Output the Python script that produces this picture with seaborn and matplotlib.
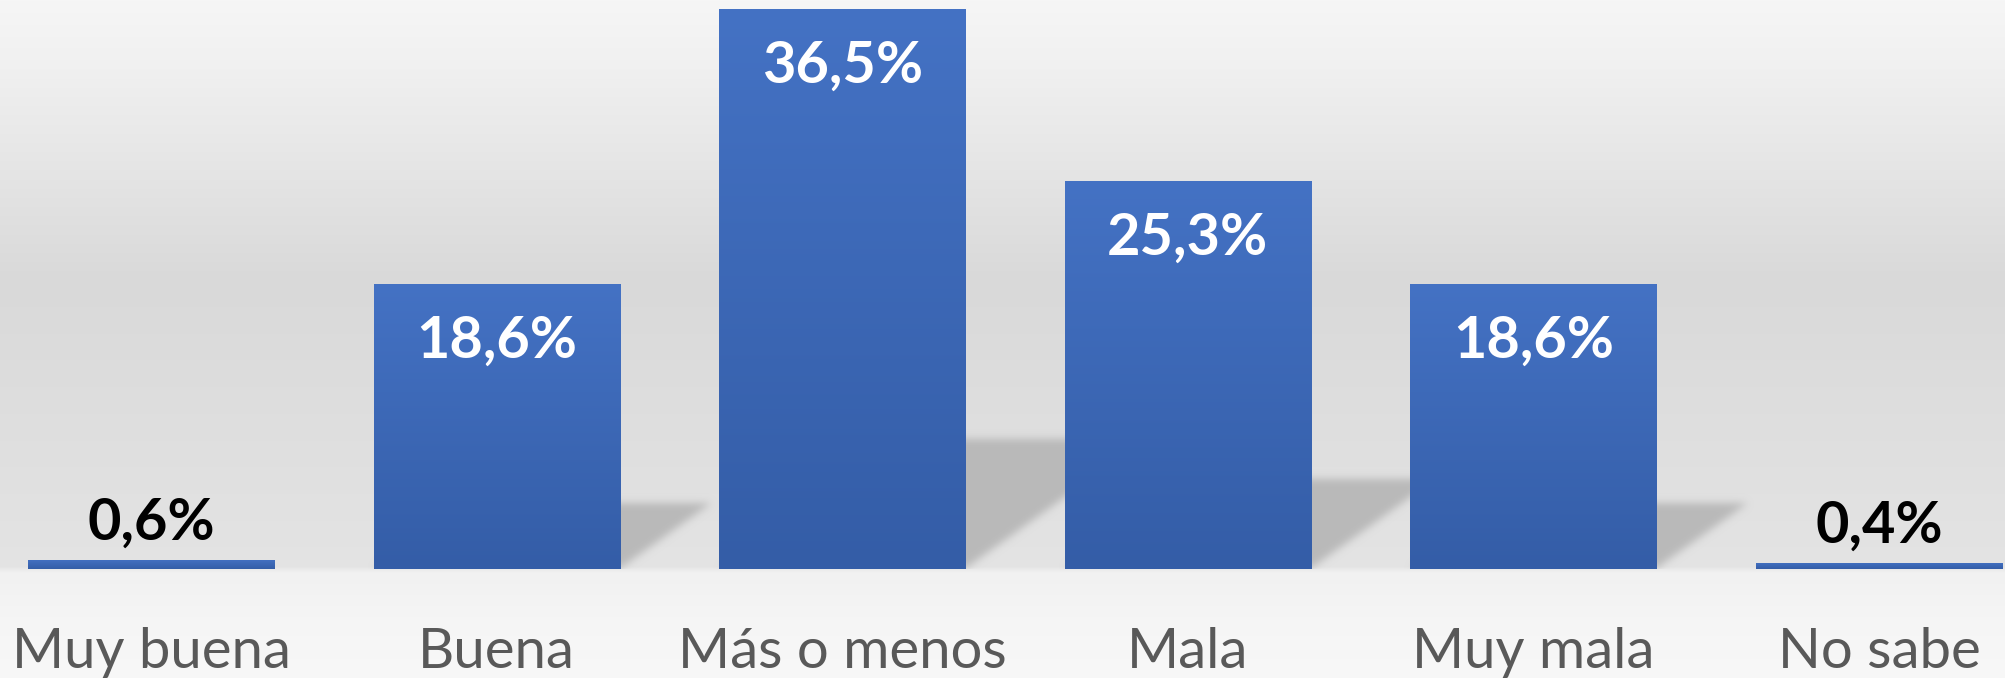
import numpy as np
import pandas as pd
import matplotlib
matplotlib.use("Agg")
import matplotlib.pyplot as plt
from matplotlib.path import Path
import seaborn as sns

categories = ["Muy buena", "Buena", "Más o menos", "Mala", "Muy mala", "No sabe"]
values = [0.6, 18.6, 36.5, 25.3, 18.6, 0.4]
value_labels = ["0,6%", "18,6%", "36,5%", "25,3%", "18,6%", "0,4%"]

sns.set_theme(style="white")
plt.rcParams["font.family"] = ["Lato", "DejaVu Sans"]

W, H, DPI = 2006, 678, 100
fig = plt.figure(figsize=(W / DPI, H / DPI), dpi=DPI)

# ---- background gradient (whole figure) ----
ax_bg = fig.add_axes([0, 0, 1, 1], zorder=-5)
ys = np.arange(H)
stops_y = [0, 60, 280, 566, 572, 620, 678]
stops_v = [0.965, 0.945, 0.851, 0.893, 0.945, 0.962, 0.972]
g = np.interp(ys, stops_y, stops_v)
bg = np.repeat(g[:, None], 8, axis=1)
bg_rgb = np.dstack([bg, bg, bg])
ax_bg.imshow(bg_rgb, aspect="auto", extent=[0, 1, 0, 1], origin="upper")
ax_bg.set_axis_off()

# ---- main axes ----
base_px = 569
top_px = 9
ax = fig.add_axes([0, 1 - base_px / H, 1, (base_px - top_px) / H], zorder=1)
ax.patch.set_alpha(0)

df = pd.DataFrame({"cat": categories, "val": values})
sns.barplot(data=df, x="cat", y="val", order=categories, color="#4472C4",
            width=0.712, saturation=1, ax=ax, zorder=3)

xl = (-151 / 345.6, (W - 151) / 345.6)
yl = (0, 36.5)
ax.set_xlim(*xl)
ax.set_ylim(*yl)

# ---- bar gradients ----
grad = np.linspace(0, 1, 256)[:, None]
top_c = np.array([0x44, 0x72, 0xC4]) / 255
bot_c = np.array([0x34, 0x5D, 0xA7]) / 255
for p in ax.patches:
    x0, y0 = p.get_x(), p.get_y()
    w, h = p.get_width(), p.get_height()
    img = top_c[None, None, :] * (1 - grad[:, :, None]) + bot_c[None, None, :] * grad[:, :, None]
    img = np.repeat(img, 2, axis=1)
    im = ax.imshow(img, extent=[x0, x0 + w, y0, y0 + h], aspect="auto",
                   origin="upper", zorder=4)
    im.set_clip_path(p)
    p.set_edgecolor("none")

# ---- perspective shadows (raster, blurred) ----
r_h, s_x = 0.231, 0.0143
nx, ny = W, base_px - top_px
gx = np.linspace(xl[0], xl[1], nx)
gy = np.linspace(yl[1], yl[0], ny)
GX, GY = np.meshgrid(gx, gy)
pts = np.column_stack([GX.ravel(), GY.ravel()])
mask = np.zeros(nx * ny, dtype=float)
for p in ax.patches:
    x0, w, h = p.get_x(), p.get_width(), p.get_height()
    if h < 2:
        continue
    poly = Path([(x0, 0), (x0 + w, 0), (x0 + w + s_x * h, r_h * h),
                 (x0 + s_x * h, r_h * h), (x0, 0)])
    mask = np.maximum(mask, poly.contains_points(pts).astype(float))
mask = mask.reshape(ny, nx)

def blur(a, sigma):
    k = np.arange(-3 * sigma, 3 * sigma + 1)
    ker = np.exp(-k ** 2 / (2 * sigma ** 2))
    ker /= ker.sum()
    a = np.apply_along_axis(lambda m: np.convolve(m, ker, mode="same"), 0, a)
    a = np.apply_along_axis(lambda m: np.convolve(m, ker, mode="same"), 1, a)
    return a

mask = blur(mask, 4)
sh = np.zeros((ny, nx, 4))
sh[..., :3] = 0.70
sh[..., 3] = mask * 0.85
ax.imshow(sh, extent=[xl[0], xl[1], yl[0], yl[1]], aspect="auto",
          origin="upper", zorder=2, interpolation="bilinear")
ax.set_xlim(*xl)
ax.set_ylim(*yl)

# ---- value labels ----
for i, (v, lab) in enumerate(zip(values, value_labels)):
    if v < 5:
        ax.annotate(lab, (i, v), xytext=(0, 14.4), textcoords="offset points",
                    ha="center", va="baseline", fontsize=41.5, fontweight="bold",
                    color="black", zorder=6)
    else:
        ax.annotate(lab, (i, v), xytext=(0, -53.3), textcoords="offset points",
                    ha="center", va="baseline", fontsize=41.5, fontweight="bold",
                    color="white", zorder=6)

# ---- axes styling ----
ax.set_xlabel("")
ax.set_ylabel("")
ax.set_yticks([])
ax.tick_params(axis="x", length=0, pad=42, labelsize=40.5, labelcolor="#595959")
for s in ax.spines.values():
    s.set_visible(False)

fig.savefig("out.png", dpi=DPI)
